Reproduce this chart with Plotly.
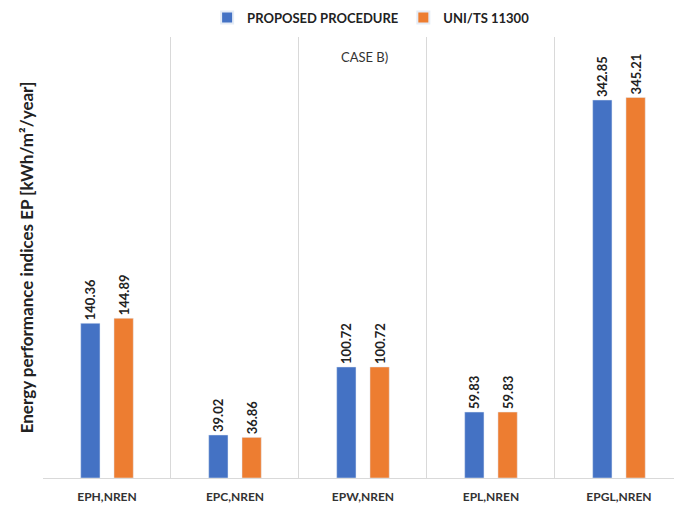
import plotly.graph_objects as go

categories = ["EPH,NREN", "EPC,NREN", "EPW,NREN", "EPL,NREN", "EPGL,NREN"]
proposed = [140.36, 39.02, 100.72, 59.83, 342.85]
uni = [144.89, 36.86, 100.72, 59.83, 345.21]
series_names = ["PROPOSED PROCEDURE", "UNI/TS 11300"]

FONT = "Lato"
fig = go.Figure()
for name, vals, col in [(series_names[0], proposed, "#4472C4"), (series_names[1], uni, "#ED7D31")]:
    fig.add_trace(go.Bar(
        x=categories, y=vals, name=name, marker_color=col,
        text=[f"{v:.2f}" for v in vals], textposition="outside", textangle=-90,
        constraintext="none",
        textfont=dict(family=FONT, size=13, color="#222222", weight="bold"),
        cliponaxis=False,
    ))

fig.update_layout(
    width=674, height=508,
    margin=dict(l=43, r=0, t=37, b=30, autoexpand=False),
    paper_bgcolor="white", plot_bgcolor="white",
    barmode="group", bargap=0.48, bargroupgap=0.42,
    showlegend=True,
    legend=dict(orientation="h", x=0.52, xanchor="center", y=0.995, yref="container", yanchor="top",
                font=dict(family=FONT, size=13, color="#222222", weight="bold"),
                itemwidth=30, itemsizing="constant", tracegroupgap=0),
    xaxis=dict(range=[-0.5, 4.43], tickson="boundaries", showgrid=True, gridcolor="#D9D9D9",
               gridwidth=1, showline=True, linecolor="#D9D9D9", ticks="",
               tickfont=dict(family=FONT, size=12, color="#333333", weight="bold"),
               ticklabelstandoff=8, automargin=False),
    yaxis=dict(range=[0, 400], showgrid=False, showticklabels=False, zeroline=False,
               automargin=False,
               title=dict(text="<b>Energy performance indices EP [kWh/m²/year]</b>",
                          font=dict(family=FONT, size=17, color="#222222"),
                          standoff=4)),
    annotations=[dict(text="CASE B)", xref="paper", yref="paper", x=0.51, y=0.977,
                      showarrow=False, font=dict(family=FONT, size=13, color="#333333"))],
)

fig.write_html("out.html", config={"displayModeBar": False},
               post_script="document.body.style.margin='0px';document.body.style.overflow='hidden';")
